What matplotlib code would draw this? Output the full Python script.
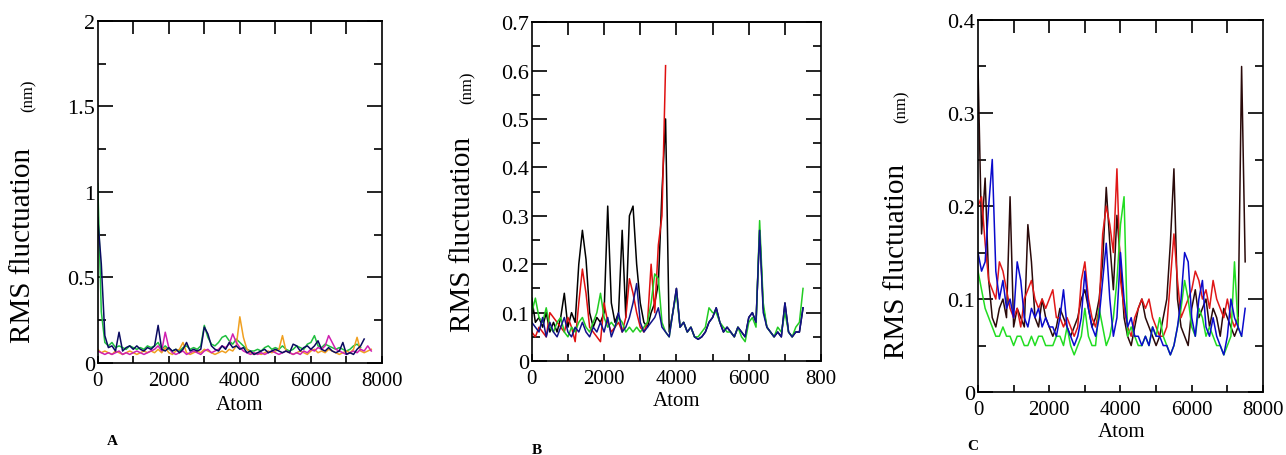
import numpy as np
import matplotlib
matplotlib.use("Agg")
import matplotlib.pyplot as plt
from matplotlib.ticker import MultipleLocator, FixedLocator, FixedFormatter, FuncFormatter

plt.rcParams['font.family'] = ['Liberation Serif', 'DejaVu Serif']

STEP = 100  # atom spacing of the sampled values

# ---------------- Panel A ----------------
navy_A = [0.85, 0.58, 0.16, 0.09, 0.10, 0.07, 0.18, 0.07, 0.09, 0.10,
          0.08, 0.10, 0.08, 0.07, 0.09, 0.08, 0.10, 0.22, 0.08, 0.07,
          0.09, 0.07, 0.08, 0.06, 0.08, 0.12, 0.07, 0.08, 0.07, 0.08,
          0.21, 0.17, 0.10, 0.08, 0.07, 0.10, 0.08, 0.12, 0.09, 0.10,
          0.08, 0.09, 0.06, 0.07, 0.05, 0.06, 0.07, 0.08, 0.06, 0.07,
          0.08, 0.07, 0.06, 0.07, 0.06, 0.11, 0.10, 0.07, 0.09, 0.10,
          0.08, 0.10, 0.13, 0.08, 0.07, 0.09, 0.07, 0.06, 0.07, 0.12,
          0.05, 0.06, 0.05, 0.08, 0.10, 0.14]
green_A = [1.05, 0.30, 0.12, 0.10, 0.12, 0.09, 0.10, 0.09, 0.08, 0.10,
           0.09, 0.08, 0.09, 0.08, 0.10, 0.09, 0.10, 0.12, 0.08, 0.10,
           0.08, 0.07, 0.08, 0.07, 0.09, 0.10, 0.08, 0.09, 0.08, 0.10,
           0.22, 0.15, 0.11, 0.10, 0.12, 0.15, 0.16, 0.13, 0.11, 0.14,
           0.12, 0.10, 0.08, 0.07, 0.07, 0.08, 0.07, 0.09, 0.10, 0.08,
           0.09, 0.08, 0.10, 0.08, 0.07, 0.08, 0.10, 0.09, 0.08, 0.11,
           0.12, 0.16, 0.10, 0.09, 0.11, 0.10, 0.09, 0.08, 0.09, 0.08,
           0.07, 0.08, 0.10, 0.11, 0.09]
orange_A = [0.08, 0.06, 0.07, 0.06, 0.05, 0.07, 0.06, 0.05, 0.06, 0.07,
            0.06, 0.05, 0.06, 0.07, 0.06, 0.07, 0.06, 0.08, 0.06, 0.09,
            0.06, 0.05, 0.07, 0.08, 0.12, 0.06, 0.05, 0.06, 0.07, 0.06,
            0.08, 0.07, 0.06, 0.05, 0.06, 0.07, 0.06, 0.08, 0.07, 0.10,
            0.27, 0.15, 0.08, 0.06, 0.05, 0.06, 0.05, 0.06, 0.07, 0.06,
            0.07, 0.08, 0.16, 0.07, 0.06, 0.05, 0.06, 0.07, 0.06, 0.05,
            0.07, 0.08, 0.06, 0.07, 0.06, 0.08, 0.07, 0.06, 0.05, 0.06,
            0.07, 0.06, 0.08, 0.15, 0.07, 0.06, 0.07, 0.08]
magenta_A = [0.07, 0.06, 0.05, 0.06, 0.05, 0.06, 0.07, 0.05, 0.06, 0.05,
             0.06, 0.07, 0.06, 0.05, 0.06, 0.07, 0.08, 0.10, 0.07, 0.18,
             0.09, 0.06, 0.05, 0.06, 0.07, 0.05, 0.06, 0.07, 0.06, 0.05,
             0.07, 0.08, 0.06, 0.07, 0.08, 0.10, 0.09, 0.11, 0.17, 0.12,
             0.09, 0.07, 0.06, 0.05, 0.06, 0.05, 0.06, 0.05, 0.06, 0.07,
             0.06, 0.05, 0.06, 0.07, 0.06, 0.05, 0.06, 0.05, 0.07, 0.06,
             0.08, 0.07, 0.09, 0.08, 0.10, 0.16, 0.12, 0.08, 0.07, 0.06,
             0.05, 0.06, 0.07, 0.06, 0.08, 0.07, 0.10, 0.07]

# ---------------- Panel B ----------------
black_B = [0.13, 0.08, 0.09, 0.07, 0.10, 0.06, 0.08, 0.06, 0.09, 0.14,
           0.07, 0.10, 0.08, 0.20, 0.27, 0.21, 0.10, 0.07, 0.09, 0.08,
           0.10, 0.32, 0.12, 0.08, 0.10, 0.27, 0.09, 0.30, 0.32, 0.20,
           0.12, 0.08, 0.07, 0.10, 0.12, 0.16, 0.35, 0.50, 0.06, 0.10,
           0.15, 0.07, 0.08, 0.06, 0.07, 0.05, 0.045, 0.05, 0.06, 0.08,
           0.09, 0.11, 0.08, 0.06, 0.07, 0.06, 0.05, 0.07, 0.06, 0.05,
           0.09, 0.10, 0.08, 0.27, 0.11, 0.07, 0.06, 0.05, 0.06, 0.05,
           0.12, 0.06, 0.05, 0.06, 0.06, 0.11]
red_B = [0.06, 0.05, 0.07, 0.06, 0.05, 0.10, 0.09, 0.08, 0.07, 0.06,
         0.09, 0.07, 0.04, 0.12, 0.19, 0.14, 0.07, 0.06, 0.05, 0.04,
         0.12, 0.08, 0.06, 0.07, 0.08, 0.06, 0.09, 0.17, 0.14, 0.10,
         0.07, 0.06, 0.08, 0.20, 0.10, 0.24, 0.30, 0.61]
green_B = [0.10, 0.13, 0.09, 0.08, 0.11, 0.07, 0.06, 0.08, 0.09, 0.06,
           0.05, 0.07, 0.06, 0.08, 0.09, 0.07, 0.06, 0.08, 0.10, 0.14,
           0.09, 0.07, 0.08, 0.07, 0.09, 0.08, 0.06, 0.07, 0.06, 0.07,
           0.06, 0.07, 0.08, 0.12, 0.18, 0.17, 0.08, 0.06, 0.05, 0.10,
           0.14, 0.07, 0.08, 0.06, 0.07, 0.05, 0.05, 0.06, 0.07, 0.11,
           0.10, 0.10, 0.08, 0.07, 0.06, 0.06, 0.05, 0.07, 0.05, 0.04,
           0.08, 0.09, 0.07, 0.29, 0.12, 0.07, 0.06, 0.05, 0.07, 0.06,
           0.10, 0.06, 0.05, 0.07, 0.08, 0.15]
blue_B = [0.08, 0.07, 0.06, 0.09, 0.05, 0.08, 0.06, 0.05, 0.07, 0.09,
          0.06, 0.05, 0.07, 0.06, 0.08, 0.06, 0.05, 0.07, 0.06, 0.08,
          0.06, 0.09, 0.05, 0.07, 0.10, 0.06, 0.07, 0.09, 0.12, 0.16,
          0.08, 0.06, 0.07, 0.08, 0.09, 0.11, 0.07, 0.06, 0.05, 0.10,
          0.15, 0.07, 0.08, 0.06, 0.07, 0.05, 0.045, 0.05, 0.06, 0.08,
          0.09, 0.11, 0.08, 0.06, 0.07, 0.06, 0.05, 0.07, 0.06, 0.05,
          0.09, 0.10, 0.08, 0.27, 0.10, 0.07, 0.06, 0.05, 0.06, 0.05,
          0.12, 0.06, 0.05, 0.06, 0.06, 0.11]

# ---------------- Panel C ----------------
black_C = [0.35, 0.17, 0.23, 0.12, 0.08, 0.07, 0.09, 0.10, 0.08, 0.21,
           0.07, 0.09, 0.08, 0.07, 0.18, 0.14, 0.08, 0.07, 0.10, 0.08,
           0.07, 0.06, 0.07, 0.09, 0.08, 0.07, 0.06, 0.07, 0.08, 0.10,
           0.11, 0.09, 0.07, 0.08, 0.10, 0.14, 0.22, 0.16, 0.11, 0.19,
           0.14, 0.08, 0.06, 0.05, 0.07, 0.09, 0.10, 0.08, 0.07, 0.06,
           0.05, 0.06, 0.08, 0.10, 0.16, 0.24, 0.10, 0.07, 0.06, 0.05,
           0.09, 0.11, 0.08, 0.09, 0.10, 0.07, 0.09, 0.08, 0.06, 0.09,
           0.08, 0.07, 0.06, 0.07, 0.35, 0.14]
red_C = [0.20, 0.21, 0.16, 0.12, 0.11, 0.10, 0.14, 0.13, 0.11, 0.09,
         0.08, 0.09, 0.07, 0.10, 0.11, 0.12, 0.10, 0.09, 0.10, 0.09,
         0.10, 0.11, 0.08, 0.08, 0.07, 0.08, 0.07, 0.06, 0.07, 0.12,
         0.14, 0.10, 0.08, 0.07, 0.09, 0.17, 0.20, 0.18, 0.15, 0.24,
         0.12, 0.09, 0.07, 0.06, 0.08, 0.09, 0.10, 0.09, 0.10, 0.08,
         0.07, 0.06, 0.06, 0.07, 0.12, 0.17, 0.12, 0.08, 0.09, 0.10,
         0.11, 0.13, 0.12, 0.10, 0.11, 0.09, 0.12, 0.10, 0.09, 0.08,
         0.10, 0.08, 0.07, 0.08]
green_C = [0.13, 0.11, 0.09, 0.08, 0.07, 0.06, 0.06, 0.07, 0.06, 0.06,
           0.05, 0.06, 0.06, 0.05, 0.05, 0.06, 0.05, 0.06, 0.06, 0.05,
           0.05, 0.05, 0.06, 0.06, 0.05, 0.07, 0.05, 0.04, 0.05, 0.06,
           0.09, 0.06, 0.05, 0.05, 0.09, 0.07, 0.05, 0.06, 0.08, 0.12,
           0.18, 0.21, 0.06, 0.07, 0.06, 0.05, 0.05, 0.06, 0.05, 0.07,
           0.06, 0.08, 0.06, 0.05, 0.04, 0.05, 0.07, 0.09, 0.12, 0.10,
           0.07, 0.06, 0.09, 0.08, 0.06, 0.07, 0.06, 0.05, 0.05, 0.04,
           0.05, 0.06, 0.14, 0.07, 0.06]
blue_C = [0.15, 0.13, 0.14, 0.20, 0.25, 0.13, 0.10, 0.12, 0.09, 0.10,
          0.08, 0.14, 0.12, 0.08, 0.07, 0.09, 0.08, 0.09, 0.07, 0.08,
          0.07, 0.07, 0.06, 0.08, 0.11, 0.07, 0.06, 0.05, 0.06, 0.08,
          0.13, 0.09, 0.07, 0.06, 0.08, 0.12, 0.16, 0.10, 0.06, 0.08,
          0.15, 0.10, 0.07, 0.08, 0.06, 0.06, 0.05, 0.06, 0.05, 0.07,
          0.06, 0.06, 0.05, 0.05, 0.04, 0.05, 0.07, 0.10, 0.15, 0.14,
          0.08, 0.06, 0.10, 0.12, 0.07, 0.06, 0.08, 0.06, 0.05, 0.04,
          0.06, 0.10, 0.08, 0.07, 0.06, 0.09]

x_ticklabels_A = ['0', '2000', '4000', '6000', '8000']
x_ticklabels_B = ['0', '2000', '4000', '6000', '800']
x_ticklabels_C = ['0', '2000', '4000', '6000', '8000']

panels = [
    dict(rect=[0.076, 0.2018, 0.221, 0.750], ylim=2.0, ymaj=0.5, ymin=0.25,
         xlabels=x_ticklabels_A,
         series=[(green_A, '#1fbf3f'), (orange_A, '#f0a020'),
                 (magenta_A, '#d020b0'), (navy_A, '#0a0a60')],
         letter='A', letter_xy=(112, 442), atom_xy=(240, 405),
         rms_xy=(23, 245), nm_xy=(29, 96)),
    dict(rect=[0.4135, 0.206, 0.225, 0.7434], ylim=0.7, ymaj=0.1, ymin=0.05,
         xlabels=x_ticklabels_B,
         series=[(black_B, '#000000'), (red_B, '#e01010'),
                 (green_B, '#22cc22'), (blue_B, '#12128a')],
         letter='B', letter_xy=(537, 451), atom_xy=(677, 402),
         rms_xy=(463, 234), nm_xy=(468, 88)),
    dict(rect=[0.7605, 0.138, 0.2216, 0.816], ylim=0.4, ymaj=0.1, ymin=0.05,
         xlabels=x_ticklabels_C,
         series=[(black_C, '#2a0a0a'), (red_C, '#e01818'),
                 (green_C, '#22dd22'), (blue_C, '#0a0acc')],
         letter='C', letter_xy=(973, 447), atom_xy=(1122, 433),
         rms_xy=(897, 261), nm_xy=(902, 107)),
]

W, H = 1286, 456
fig = plt.figure(figsize=(W / 100, H / 100), dpi=100)

def fx(px):
    return px / W

def fy(py):
    return 1 - py / H

def yfmt(v, pos):
    return '0' if abs(v) < 1e-9 else f'{v:g}'

for p in panels:
    ax = fig.add_axes(p['rect'])
    for vals, col in p['series']:
        xs = np.arange(len(vals)) * STEP
        ax.plot(xs, vals, color=col, lw=1.1)
    ax.set_xlim(0, 8000)
    ax.set_ylim(0, p['ylim'])
    ax.xaxis.set_major_locator(FixedLocator([0, 2000, 4000, 6000, 8000]))
    ax.xaxis.set_major_formatter(FixedFormatter(p['xlabels']))
    ax.xaxis.set_minor_locator(MultipleLocator(1000))
    ax.yaxis.set_major_locator(MultipleLocator(p['ymaj']))
    ax.yaxis.set_minor_locator(MultipleLocator(p['ymin']))
    ax.yaxis.set_major_formatter(FuncFormatter(yfmt))
    for s in ax.spines.values():
        s.set_linewidth(1.2)
    ax.tick_params(axis='y', which='major', direction='in', length=11, width=1.2,
                   left=True, right=True, labelsize=16, pad=2)
    ax.tick_params(axis='y', which='minor', direction='in', length=5.5, width=1.2,
                   left=True, right=True)
    ax.tick_params(axis='x', which='both', direction='in', length=5, width=1.2,
                   top=False, bottom=True, labelsize=15, pad=6)
    sec = ax.secondary_xaxis('top')
    sec.set_xticks(list(range(1000, 8000, 1000)))
    sec.tick_params(direction='in', length=9, width=1.2, labeltop=False)
    sec.spines['top'].set_linewidth(1.2)

    fig.text(fx(p['atom_xy'][0]), fy(p['atom_xy'][1]), 'Atom', ha='center', va='center', fontsize=15)
    fig.text(fx(p['rms_xy'][0]), fy(p['rms_xy'][1]), 'RMS fluctuation', rotation=90,
             ha='center', va='center', fontsize=21)
    fig.text(fx(p['nm_xy'][0]), fy(p['nm_xy'][1]), '(nm)', rotation=90,
             ha='center', va='center', fontsize=12)
    fig.text(fx(p['letter_xy'][0]), fy(p['letter_xy'][1]), p['letter'],
             ha='center', va='center', fontsize=11, fontweight='bold')

fig.savefig('out.png', dpi=100)
